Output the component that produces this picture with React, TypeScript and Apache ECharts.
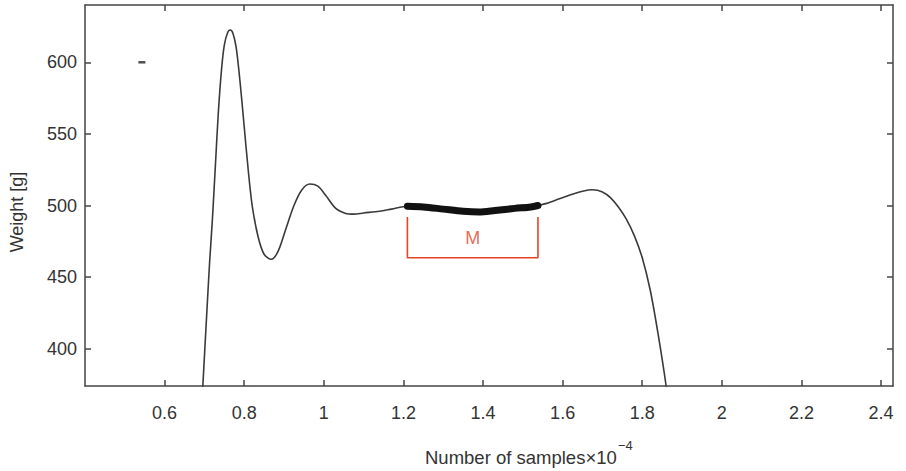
import React, { useEffect, useRef } from 'react';
import * as echarts from 'echarts';

// Tick values
const xTickValues = [0.6, 0.8, 1.0, 1.2, 1.4, 1.6, 1.8, 2.0, 2.2, 2.4];
const yTickValues = [400, 450, 500, 550, 600];

// Main weight curve (x in units of 10^4 samples, y in grams)
const curveX = [
  0.689, 0.696, 0.705, 0.713, 0.720, 0.728, 0.735, 0.743, 0.750, 0.758, 0.765, 0.772,
  0.780, 0.790, 0.800, 0.810, 0.820, 0.835, 0.850, 0.868, 0.885, 0.905, 0.925, 0.945,
  0.965, 0.985, 1.005, 1.030, 1.055, 1.075, 1.100, 1.140, 1.170, 1.210, 1.250, 1.300,
  1.350, 1.390, 1.430, 1.480, 1.520, 1.538, 1.560, 1.590, 1.620, 1.650, 1.675, 1.700,
  1.720, 1.740, 1.760, 1.780, 1.800, 1.820, 1.840, 1.860, 1.875,
];
const curveY = [
  340, 374, 420, 460, 490, 530, 565, 595, 612, 620.5, 622.5, 620,
  610, 585, 555, 525, 500, 478, 466, 462.5, 468, 484, 500, 511,
  515, 513.5, 507, 498, 494.5, 494, 494.8, 496, 497.5, 499.5, 499, 497.5,
  496, 495.5, 496.5, 498, 499, 500, 501.5, 504.5, 507.5, 510, 511, 509.5,
  505.5, 499, 490.5, 479, 463.5, 441, 410, 374, 340,
];

// Highlighted (thick) segment M
const segmentX = [1.21, 1.25, 1.30, 1.35, 1.39, 1.43, 1.48, 1.52, 1.538];
const segmentY = [499.5, 499, 497.5, 496, 495.5, 496.5, 498, 499, 500];

// Red bracket under the segment
const bracketX = [1.21, 1.21, 1.538, 1.538];
const bracketY = [492, 463.5, 463.5, 492];
const bracketLabel = 'M';
const bracketLabelX = 1.374;
const bracketLabelY = 477;

// Small dash marker at top left
const dashX = [0.543];
const dashY = [600];

const FONT = 'Liberation Sans, Arial, Helvetica, sans-serif';
const TEXT = '#333333';
const AXIS = '#444444';
const RED = '#e5432a';

export default function App() {
  const ref = useRef<HTMLDivElement>(null);
  useEffect(() => {
    if (!ref.current) return;
    const chart = echarts.init(ref.current, undefined, { renderer: 'svg' });
    const zip = (xs: number[], ys: number[]) => xs.map((x, i) => [x, ys[i]]);
    const fmt = (v: number) => `${+Number(v).toFixed(2)}`;
    const xMin = 0.4, xMax = 2.43, yMin = 374, yMax = 640;
    const axisLine = { show: true, onZero: false, lineStyle: { color: AXIS, width: 1.5 } };
    const option: any = {
      animation: false,
      backgroundColor: '#ffffff',
      grid: { left: 85, right: 13, top: 5, bottom: 85, containLabel: false },
      xAxis: [
        {
          type: 'value', min: xMin, max: xMax, position: 'bottom',
          axisLine,
          axisTick: { show: true, inside: true, length: 6, customValues: xTickValues, lineStyle: { color: AXIS, width: 1.5 } },
          axisLabel: { show: true, customValues: xTickValues, formatter: fmt, margin: 18, fontSize: 18, color: TEXT, fontFamily: FONT },
          splitLine: { show: false },
        },
        {
          type: 'value', min: xMin, max: xMax, position: 'top',
          axisLine,
          axisTick: { show: true, inside: true, length: 6, customValues: xTickValues, lineStyle: { color: AXIS, width: 1.5 } },
          axisLabel: { show: false },
          splitLine: { show: false },
        },
      ],
      yAxis: [
        {
          type: 'value', min: yMin, max: yMax, position: 'left',
          axisLine,
          axisTick: { show: true, inside: true, length: 6, customValues: yTickValues, lineStyle: { color: AXIS, width: 1.5 } },
          axisLabel: { show: true, customValues: yTickValues, margin: 8, fontSize: 18, color: TEXT, fontFamily: FONT },
          splitLine: { show: false },
        },
        {
          type: 'value', min: yMin, max: yMax, position: 'right',
          axisLine,
          axisTick: { show: true, inside: true, length: 6, customValues: yTickValues, lineStyle: { color: AXIS, width: 1.5 } },
          axisLabel: { show: false },
          splitLine: { show: false },
        },
      ],
      series: [
        {
          type: 'line', data: zip(curveX, curveY), smooth: 0.3, symbol: 'none', clip: true,
          lineStyle: { color: '#3a3a3a', width: 1.6 },
        },
        {
          type: 'line', data: zip(segmentX, segmentY), smooth: 0.3, symbol: 'none', clip: true,
          lineStyle: { color: '#111111', width: 7, cap: 'round', join: 'round' },
        },
        {
          type: 'line', data: zip(bracketX, bracketY), symbol: 'none',
          lineStyle: { color: RED, width: 1.6 },
        },
        {
          type: 'scatter', data: [[bracketLabelX, bracketLabelY]], symbolSize: 1,
          itemStyle: { color: 'rgba(0,0,0,0)' },
          label: { show: true, position: 'inside', formatter: bracketLabel, color: RED, fontSize: 18, fontFamily: FONT },
        },
        {
          type: 'scatter', data: zip(dashX, dashY), symbol: 'rect', symbolSize: [7, 2.5],
          itemStyle: { color: '#222222' },
        },
      ],
      graphic: [
        {
          type: 'text', x: 425, y: 457,
          style: { text: 'Number of samples×10', font: `18.5px ${FONT}`, fill: TEXT, textAlign: 'left', textVerticalAlign: 'middle' },
        },
        {
          type: 'text', x: 618, y: 445,
          style: { text: '−4', font: `13px ${FONT}`, fill: TEXT, textAlign: 'left', textVerticalAlign: 'middle' },
        },
        {
          type: 'text', x: 17, y: 212, rotation: Math.PI / 2,
          style: { text: 'Weight [g]', font: `18px ${FONT}`, fill: TEXT, textAlign: 'center', textVerticalAlign: 'middle' },
        },
      ],
    };
    chart.setOption(option);
    return () => chart.dispose();
  }, []);
  return <div ref={ref} style={{ position: 'fixed', left: 0, top: 0, width: 906, height: 471 }} />;
}
